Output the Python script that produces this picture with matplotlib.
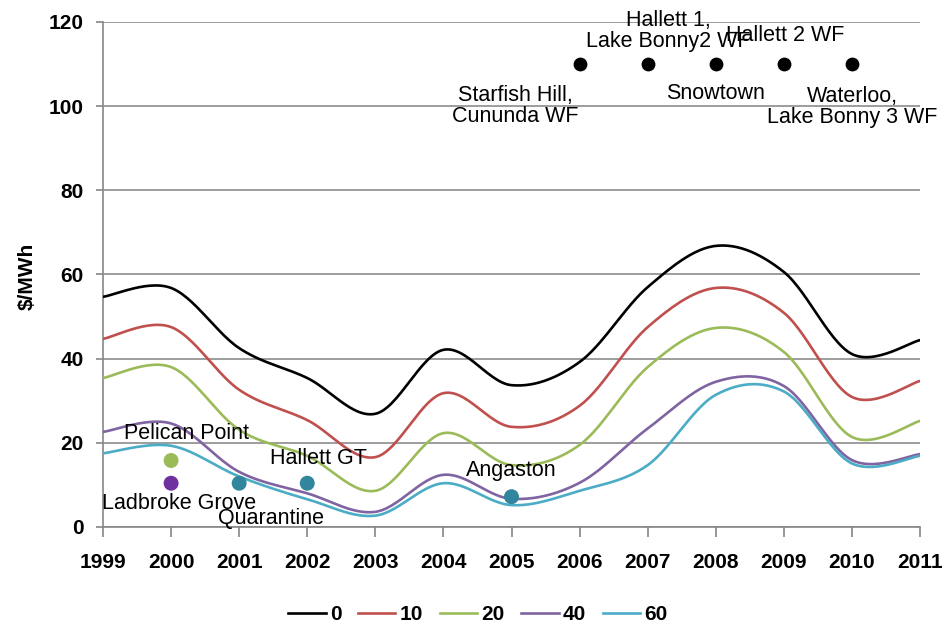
import numpy as np
import matplotlib
matplotlib.use('Agg')
import matplotlib.pyplot as plt

plt.rcParams['font.family'] = ['Liberation Sans', 'DejaVu Sans']

years = list(range(1999, 2012))
series_names = ['0', '10', '20', '40', '60']
s0 = [54.7, 56.8, 42.5, 35.4, 26.9, 42.1, 33.7, 39.2, 57.0, 66.8, 60.6, 41.1, 44.4]
s10 = [44.7, 47.5, 32.6, 25.4, 16.6, 31.8, 23.8, 28.8, 47.5, 56.8, 50.9, 30.9, 34.7]
s20 = [35.4, 38.0, 23.1, 16.9, 8.6, 22.3, 14.7, 19.5, 38.0, 47.3, 41.6, 21.4, 25.2]
s40 = [22.6, 24.6, 13.1, 8.0, 3.6, 12.4, 6.7, 10.5, 23.4, 34.5, 33.5, 15.9, 17.3]
s60 = [17.5, 19.3, 12.0, 6.6, 2.7, 10.4, 5.2, 8.6, 14.7, 31.4, 32.2, 15.1, 16.9]
line_colors = ['#000000', '#C0504D', '#9BBB59', '#8064A2', '#4BACC6']

# new plant markers (year, value, colour, label, label x, label y)
top_years = [2006, 2007, 2008, 2009, 2010]
top_value = 110
top_labels = ['Starfish Hill,\nCununda WF', 'Hallett 1,\nLake Bonny2 WF', 'Snowtown',
              'Hallett 2 WF', 'Waterloo,\nLake Bonny 3 WF']
top_label_x = [2005.05, 2007.3, 2008.0, 2009.02, 2010.0]
top_label_y = [100.0, 117.9, 102.9, 116.7, 99.8]

low_years = [2000, 2000, 2001, 2002, 2005]
low_values = [15.8, 10.4, 10.4, 10.4, 7.2]
low_colors = ['#9BBB59', '#7030A0', '#31859C', '#31859C', '#31859C']
low_labels = ['Pelican Point', 'Ladbroke Grove', 'Quarantine', 'Hallett GT', 'Angaston']
low_label_x = [2000.22, 2000.12, 2001.47, 2002.17, 2005.0]
low_label_y = [22.1, 5.6, 2.1, 16.3, 13.5]


def smooth(x, y, n=30):
    # Excel-style smoothed line (cubic bezier, catmull-rom control points)
    x = np.asarray(x, float)
    y = np.asarray(y, float)
    px = np.concatenate([[x[0]], x, [x[-1]]])
    py = np.concatenate([[y[0]], y, [y[-1]]])
    t = np.linspace(0, 1, n)
    xs, ys = [], []
    for i in range(1, len(px) - 2):
        p0x, p1x, p2x, p3x = px[i - 1], px[i], px[i + 1], px[i + 2]
        p0y, p1y, p2y, p3y = py[i - 1], py[i], py[i + 1], py[i + 2]
        b1x, b1y = p1x + (p2x - p0x) / 6, p1y + (p2y - p0y) / 6
        b2x, b2y = p2x - (p3x - p1x) / 6, p2y - (p3y - p1y) / 6
        xs.append((1 - t) ** 3 * p1x + 3 * (1 - t) ** 2 * t * b1x + 3 * (1 - t) * t ** 2 * b2x + t ** 3 * p2x)
        ys.append((1 - t) ** 3 * p1y + 3 * (1 - t) ** 2 * t * b1y + 3 * (1 - t) * t ** 2 * b2y + t ** 3 * p2y)
    return np.concatenate(xs), np.concatenate(ys)


fig = plt.figure(figsize=(9.52, 6.3), dpi=100)
ax = fig.add_axes([0.1082, 0.1635, 0.8582, 0.8016])

for name, vals, c in zip(series_names, [s0, s10, s20, s40, s60], line_colors):
    sx, sy = smooth(years, vals)
    ax.plot(sx, sy, color=c, lw=1.9, label=name, zorder=3)

ax.scatter(top_years, [top_value] * len(top_years), s=80, color='black', zorder=4)
for lx, ly, t in zip(top_label_x, top_label_y, top_labels):
    ax.text(lx, ly, t, ha='center', va='center', fontsize=15.5, linespacing=1.0)

ax.scatter(low_years, low_values, s=95, c=low_colors, zorder=4)
for lx, ly, t in zip(low_label_x, low_label_y, low_labels):
    ax.text(lx, ly, t, ha='center', va='center', fontsize=15.5, zorder=5)

ax.set_xlim(1999, 2011)
ax.set_ylim(0, 120)
ax.set_xticks(years)
ax.set_yticks(range(0, 121, 20))
ax.tick_params(axis='x', direction='out', length=7, color='#868686', width=1.2, pad=12, labelsize=15)
ax.tick_params(axis='y', direction='out', length=5, color='#868686', width=1.2, pad=9, labelsize=15)
for lab in ax.get_xticklabels() + ax.get_yticklabels():
    lab.set_fontweight('bold')
ax.grid(axis='y', color='#8C8C8C', lw=1.2)
ax.set_axisbelow(True)
for side in ['top', 'right']:
    ax.spines[side].set_visible(False)
for side in ['left', 'bottom']:
    ax.spines[side].set_color('#868686')
    ax.spines[side].set_linewidth(1.2)

fig.text(0.029, 0.562, '$/MWh', rotation=90, ha='center', va='center', fontsize=15, fontweight='bold')

fig.legend(loc='center', bbox_to_anchor=(0.502, 0.024), ncol=5, frameon=False,
           prop={'size': 15, 'weight': 'bold'}, handlelength=1.8, handletextpad=0.2,
           columnspacing=0.8)

fig.savefig('out.png', dpi=100)
